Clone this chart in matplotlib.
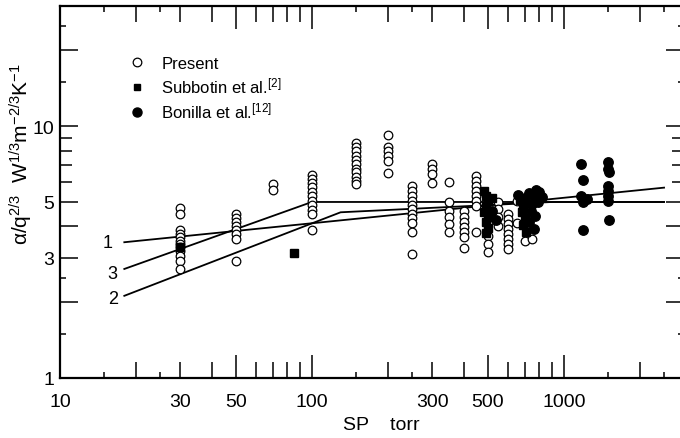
import numpy as np
import matplotlib
matplotlib.use("Agg")
import matplotlib.pyplot as plt
from matplotlib.lines import Line2D
from matplotlib.ticker import FixedLocator, FixedFormatter, NullFormatter

plt.rcParams["font.family"] = ["Liberation Sans", "DejaVu Sans"]
plt.rcParams["mathtext.fontset"] = "custom"
plt.rcParams["mathtext.rm"] = "Liberation Sans"
plt.rcParams["mathtext.it"] = "Liberation Sans"
plt.rcParams["mathtext.sf"] = "Liberation Sans"

# --- present data (open circles), vertical clusters per SP value [torr]
present_sp = ([30] * 12 + [50] * 8 + [70] * 2 + [100] * 11 + [150] * 11
              + [200] * 6 + [250] * 11 + [300] * 4 + [350] * 6 + [400] * 7
              + [450] * 8 + [500] * 3 + [550] * 4 + [600] * 8 + [650] * 2
              + [700] + [750])
present_alpha = [
    4.73, 4.48, 3.87, 3.73, 3.63, 3.50, 3.40, 3.31, 3.19, 3.05, 2.91, 2.71,   # 30
    4.48, 4.31, 4.16, 4.01, 3.87, 3.73, 3.56, 2.91,                           # 50
    5.89, 5.57,                                                               # 70
    6.39, 6.17, 5.95, 5.73, 5.47, 5.27, 5.04, 4.86, 4.66, 4.48, 3.87,         # 100
    8.54, 8.23, 7.94, 7.62, 7.35, 7.07, 6.79, 6.55, 6.31, 6.07, 5.89,         # 150
    9.21, 8.23, 7.94, 7.62, 7.28, 6.51,                                       # 200
    5.76, 5.54, 5.29, 5.05, 4.86, 4.69, 4.48, 4.30, 4.12, 3.81, 3.10,         # 250
    7.07, 6.74, 6.44, 5.92,                                                   # 300
    5.99, 5.00, 4.59, 4.35, 4.08, 3.80,                                       # 350
    4.61, 4.34, 4.15, 3.96, 3.79, 3.62, 3.28,                                 # 400
    6.35, 6.07, 5.80, 5.55, 5.29, 5.05, 4.83, 3.79,                           # 450
    3.66, 3.40, 3.16,                                                         # 500
    4.98, 4.69, 4.34, 4.02,                                                   # 550
    4.48, 4.27, 4.08, 3.90, 3.73, 3.56, 3.40, 3.25,                           # 600
    5.05, 4.14,                                                               # 650
    3.50,                                                                     # 700
    3.56,                                                                     # 750
]

# --- Subbotin et al. [2] (filled squares)
subbotin_sp = [30, 85, 480, 490, 500, 490, 480, 500, 490, 500, 490, 520,
               670, 690, 680, 700, 690, 710]
subbotin_alpha = [3.30, 3.15, 5.55, 5.30, 5.05, 4.80, 4.55, 4.35, 4.15, 3.95,
                  3.78, 5.20, 5.10, 4.85, 4.55, 4.30, 4.05, 3.80]

# --- Bonilla et al. [12] (filled circles)
bonilla_sp = [520, 540, 660, 700, 730, 760, 775, 800, 820, 790, 750, 740, 770,
              730, 760, 1170, 1190, 1170, 1240, 1190, 1190, 1500, 1500, 1510,
              1500, 1500, 1500, 1500, 1510]
bonilla_alpha = [4.60, 4.25, 5.35, 5.20, 5.45, 5.30, 5.60, 5.50, 5.25, 5.00,
                 4.90, 4.60, 4.40, 4.15, 3.90, 7.07, 6.12, 5.29, 5.16, 4.98,
                 3.88, 7.18, 6.75, 6.55, 5.80, 5.54, 5.29, 5.05, 4.24]

# --- correlation lines 1, 2, 3
line1_sp = [18, 2500]
line1_alpha = [3.46, 5.70]
line2_sp = [18, 130, 900, 2500]
line2_alpha = [2.12, 4.55, 5.00, 5.00]
line3_sp = [18, 100, 2500]
line3_alpha = [2.71, 5.00, 5.00]

x_major = [10, 20, 30, 40, 50, 60, 70, 80, 90, 100, 200, 300, 400, 500, 600,
           700, 800, 900, 1000, 2000]
x_minor = [15, 25, 150, 250, 1500, 2500]
x_labeled = [10, 30, 50, 100, 300, 500, 1000]
x_long = [50, 100, 500, 1000]

y_major = [1, 2, 3, 4, 5, 6, 7, 8, 9, 10, 20]
y_minor = [1.5, 2.5, 15, 25]
y_labeled = [1, 3, 5, 10]
y_long = [2, 3, 4, 5, 10, 20]


def set_tick_lengths(axis, locs, long_locs, normal, long):
    for loc, t in zip(locs, axis.get_major_ticks()):
        size = long if loc in long_locs else normal
        t.tick1line.set_markersize(size)
        t.tick2line.set_markersize(size)


fig = plt.figure(figsize=(6.8, 4.39), dpi=100)
ax = fig.add_axes([60 / 680, 60 / 439, 624 / 680, 372 / 439])
ax.set_xscale("log")
ax.set_yscale("log")
ax.set_xlim(10, 3000)
ax.set_ylim(1, 30)

for xs, ys in [(line1_sp, line1_alpha), (line2_sp, line2_alpha), (line3_sp, line3_alpha)]:
    ax.plot(xs, ys, color="black", lw=1.3, zorder=1)

ax.plot(present_sp, present_alpha, ls="none", marker="o", ms=6.2,
        mfc="white", mec="black", mew=0.9, zorder=2)
ax.plot(subbotin_sp, subbotin_alpha, ls="none", marker="s", ms=5.5,
        mfc="black", mec="black", zorder=3)
ax.plot(bonilla_sp, bonilla_alpha, ls="none", marker="o", ms=6.8,
        mfc="black", mec="black", zorder=3)

for lab, xx, yy in [("1", 15.5, 3.44), ("3", 16.2, 2.61), ("2", 16.2, 2.06)]:
    ax.text(xx, yy, lab, fontsize=13, ha="center", va="center")

handles = [
    Line2D([], [], ls="none", marker="o", ms=6.2, mfc="white", mec="black", mew=0.9),
    Line2D([], [], ls="none", marker="s", ms=5, mfc="black", mec="black"),
    Line2D([], [], ls="none", marker="o", ms=6.5, mfc="black", mec="black"),
]
labels = ["Present", "Subbotin et al.$^{[2]}$", "Bonilla et al.$^{[12]}$"]
ax.legend(handles, labels, loc="upper left", bbox_to_anchor=(0.11, 0.866),
          frameon=False, fontsize=12, handlelength=1.0, handletextpad=0.95,
          labelspacing=0.3, borderpad=0, borderaxespad=0)

# ticks
ax.xaxis.set_major_locator(FixedLocator(x_major))
ax.xaxis.set_minor_locator(FixedLocator(x_minor))
ax.xaxis.set_major_formatter(FixedFormatter([str(v) if v in x_labeled else "" for v in x_major]))
ax.xaxis.set_minor_formatter(NullFormatter())
ax.yaxis.set_major_locator(FixedLocator(y_major))
ax.yaxis.set_minor_locator(FixedLocator(y_minor))
ax.yaxis.set_major_formatter(FixedFormatter([str(v) if v in y_labeled else "" for v in y_major]))
ax.yaxis.set_minor_formatter(NullFormatter())

ax.tick_params(which="both", direction="in", top=True, right=True, width=1.1,
               labelsize=14)
ax.tick_params(axis="x", which="major", pad=11)
ax.tick_params(axis="y", which="major", pad=4)
ax.tick_params(which="minor", length=4.3)
set_tick_lengths(ax.xaxis, x_major, x_long, 11.5, 16.5)
set_tick_lengths(ax.yaxis, y_major, y_long, 8.6, 13)

for sp in ax.spines.values():
    sp.set_linewidth(1.6)

fig.text(381 / 680, 1 - 426 / 439, "SP    torr", fontsize=14, ha="center", va="center")
fig.text(21 / 680, 1 - 154 / 439,
         "α/q$^{2/3}$  W$^{1/3}$m$^{-2/3}$K$^{-1}$",
         fontsize=15, rotation=90, ha="center", va="center")

fig.savefig("out.png", dpi=100)
